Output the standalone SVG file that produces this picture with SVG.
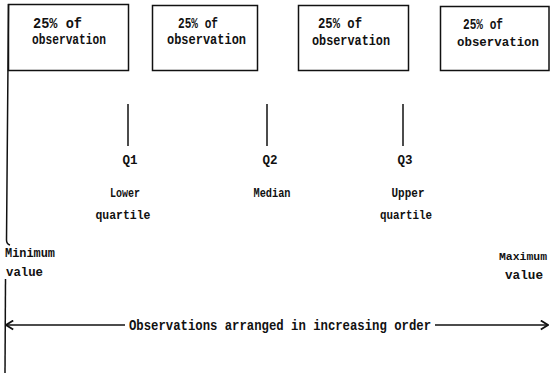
<svg xmlns="http://www.w3.org/2000/svg" width="550" height="375" viewBox="0 0 550 375">
<defs>
<style>
.box{fill:#fff;stroke:#111;stroke-width:1.5}
.ln{stroke:#111;stroke-width:1.5;fill:none}
text{font-family:"Liberation Mono","DejaVu Sans Mono",monospace;font-weight:bold;fill:#111}
.b{font-size:15px}
.s{font-size:13.5px}
</style>
<marker id="ah" viewBox="0 0 10 12" refX="9" refY="6" markerWidth="9" markerHeight="11" markerUnits="userSpaceOnUse" orient="auto-start-reverse">
<path d="M1,1 L9,6 L1,11" fill="none" stroke="#111" stroke-width="2"/>
</marker>
</defs>
<rect width="550" height="375" fill="#fff"/>
<g id="box1"><rect class="box" x="8.5" y="4.5" width="120" height="66"/>
<text class="b" x="33" y="28" textLength="49" lengthAdjust="spacingAndGlyphs">25% of</text>
<text class="b" x="32" y="44" textLength="74" lengthAdjust="spacingAndGlyphs">observation</text></g>
<g id="box2"><rect class="box" x="152.5" y="5.5" width="105" height="65"/>
<text class="b" x="178" y="28" textLength="40" lengthAdjust="spacingAndGlyphs">25% of</text>
<text class="b" x="167" y="44" textLength="79" lengthAdjust="spacingAndGlyphs">observation</text></g>
<g id="box3"><rect class="box" x="298.5" y="5.5" width="110" height="65"/>
<text class="b" x="318" y="28" textLength="44" lengthAdjust="spacingAndGlyphs">25% of</text>
<text class="b" x="312" y="45" textLength="78" lengthAdjust="spacingAndGlyphs">observation</text></g>
<g id="box4"><rect class="box" x="440.5" y="6.5" width="108.5" height="64"/>
<text class="b" x="463" y="29" textLength="40" lengthAdjust="spacingAndGlyphs">25% of</text>
<text x="457" y="46" font-size="13.5" textLength="82" lengthAdjust="spacingAndGlyphs">observation</text></g>
<g id="q1"><line class="ln" x1="128" y1="104" x2="128" y2="146"/>
<text class="s" x="130" y="164" text-anchor="middle" textLength="15" lengthAdjust="spacingAndGlyphs">Q1</text>
<text class="s" x="125" y="197" text-anchor="middle" textLength="30" lengthAdjust="spacingAndGlyphs">Lower</text>
<text class="s" x="123" y="219" text-anchor="middle" textLength="55" lengthAdjust="spacingAndGlyphs">quartile</text></g>
<g id="q2"><line class="ln" x1="267" y1="104" x2="267" y2="146"/>
<text class="s" x="270" y="164" text-anchor="middle" textLength="15" lengthAdjust="spacingAndGlyphs">Q2</text>
<text class="s" x="272" y="197" text-anchor="middle" textLength="37" lengthAdjust="spacingAndGlyphs">Median</text></g>
<g id="q3"><line class="ln" x1="403" y1="104" x2="403" y2="146"/>
<text class="s" x="405" y="164" text-anchor="middle" textLength="15" lengthAdjust="spacingAndGlyphs">Q3</text>
<text class="s" x="408" y="197" text-anchor="middle" textLength="33" lengthAdjust="spacingAndGlyphs">Upper</text>
<text class="s" x="406" y="219" text-anchor="middle" textLength="52" lengthAdjust="spacingAndGlyphs">quartile</text></g>
<g id="minimum">
<text class="s" x="5" y="257" textLength="50" lengthAdjust="spacingAndGlyphs">Minimum</text>
<text class="s" x="6" y="276" textLength="37" lengthAdjust="spacingAndGlyphs">value</text></g>
<g id="maximum">
<text x="499" y="260" font-size="11.8" textLength="48" lengthAdjust="spacingAndGlyphs">Maximum</text>
<text class="s" x="543" y="279" text-anchor="end" textLength="38" lengthAdjust="spacingAndGlyphs">value</text></g>
<g id="connectors">
<path class="ln" d="M8.5,4 L6.5,240 Q6.5,244 10,245" stroke-width="2"/>
<line class="ln" x1="5.5" y1="279" x2="5" y2="373" stroke-width="2"/>
<line class="ln" x1="125" y1="325" x2="6" y2="325" marker-end="url(#ah)"/>
<line class="ln" x1="435" y1="325" x2="548" y2="325" marker-end="url(#ah)"/>
<text x="280" y="330" text-anchor="middle" textLength="302" lengthAdjust="spacingAndGlyphs" font-size="15" font-weight="normal">Observations arranged in increasing order</text>
</g>
</svg>
